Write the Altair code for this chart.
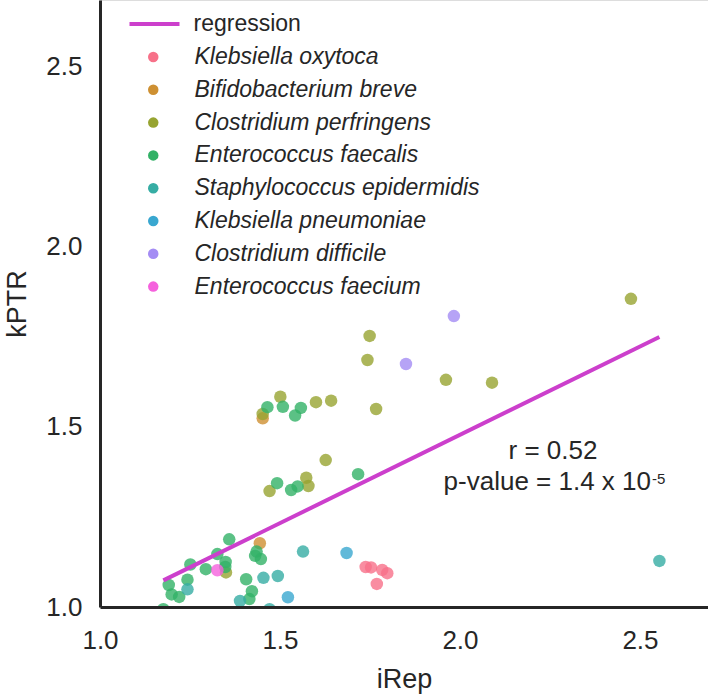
import altair as alt
import pandas as pd

FONT = "Liberation Sans"
INK = "#262626"

species = [
    "Klebsiella oxytoca",
    "Bifidobacterium breve",
    "Clostridium perfringens",
    "Enterococcus faecalis",
    "Staphylococcus epidermidis",
    "Klebsiella pneumoniae",
    "Clostridium difficile",
    "Enterococcus faecium",
]
palette = ["#f77189", "#ce9032", "#97a431", "#32b166",
           "#36ada4", "#39a7d0", "#a48cf4", "#f561dd"]

# iRep and kPTR estimates per genome, grouped by species
irep = {
    "Klebsiella oxytoca": [1.738, 1.753, 1.784, 1.798, 1.769],
    "Bifidobacterium breve": [1.452, 1.444],
    "Clostridium perfringens": [2.475, 1.749, 1.743, 1.961, 2.089, 1.767, 1.501, 1.452,
                                1.600, 1.642, 1.627, 1.471, 1.573, 1.579, 1.350],
    "Enterococcus faecalis": [1.465, 1.508, 1.542, 1.558, 1.717, 1.492, 1.531, 1.549,
                              1.359, 1.435, 1.431, 1.447, 1.326, 1.251, 1.294, 1.349,
                              1.348, 1.191, 1.199, 1.220, 1.243, 1.406, 1.422, 1.415, 1.176],
    "Staphylococcus epidermidis": [2.554, 1.564, 1.243, 1.454, 1.494, 1.389, 1.471],
    "Klebsiella pneumoniae": [1.685, 1.522],
    "Clostridium difficile": [1.983, 1.850],
    "Enterococcus faecium": [1.326],
}
kptr = {
    "Klebsiella oxytoca": [1.111, 1.110, 1.103, 1.094, 1.064],
    "Bifidobacterium breve": [1.524, 1.177],
    "Clostridium perfringens": [1.856, 1.753, 1.686, 1.631, 1.623, 1.550, 1.584, 1.536,
                                1.569, 1.573, 1.408, 1.322, 1.359, 1.336, 1.096],
    "Enterococcus faecalis": [1.555, 1.556, 1.532, 1.553, 1.369, 1.344, 1.325, 1.335,
                              1.188, 1.154, 1.142, 1.133, 1.147, 1.118, 1.105, 1.125,
                              1.111, 1.061, 1.035, 1.028, 1.076, 1.077, 1.044, 1.022, 0.994],
    "Staphylococcus epidermidis": [1.128, 1.154, 1.049, 1.081, 1.086, 1.017, 0.994],
    "Klebsiella pneumoniae": [1.150, 1.027],
    "Clostridium difficile": [1.808, 1.675],
    "Enterococcus faecium": [1.102],
}

# least-squares fit across all genomes
fit_irep = [1.176, 2.554]
fit_kptr = [1.074, 1.750]
fit_color = "#cc3fcc"

stats_r = "r = 0.52"
stats_p = "p-value = 1.4 x 10"
stats_p_exp = "-5"

rows = []
for name in species:
    for xv, yv in zip(irep[name], kptr[name]):
        rows.append({"iRep": xv, "kPTR": yv, "species": name})
points_df = pd.DataFrame(rows)
fit_df = pd.DataFrame({"iRep": fit_irep, "kPTR": fit_kptr,
                       "series": ["regression"] * len(fit_irep)})

x_scale = alt.Scale(domain=[1.0, 2.689], nice=False, zero=False)
y_scale = alt.Scale(domain=[1.0, 2.686], nice=False, zero=False)

x_axis = alt.Axis(
    title="iRep", values=[1.0, 1.5, 2.0, 2.5], format=".1f",
    grid=False, ticks=False, domainColor=INK, domainWidth=3,
    labelFont=FONT, labelFontSize=26, labelColor=INK, labelPadding=20,
    labelFlush=False, labelOverlap=False,
    titleFont=FONT, titleFontSize=27, titleFontWeight="normal", titleColor=INK,
    titleY=80, titleBaseline="alphabetic", zindex=1,
)
y_axis = alt.Axis(
    title="kPTR", values=[1.0, 1.5, 2.0, 2.5], format=".1f",
    grid=False, ticks=False, domainColor=INK, domainWidth=3,
    labelFont=FONT, labelFontSize=26, labelColor=INK, labelPadding=18,
    labelFlush=False, labelOverlap=False,
    titleFont=FONT, titleFontSize=27, titleFontWeight="normal", titleColor=INK,
    titleX=-75, titleBaseline="alphabetic", zindex=1,
)

scatter = alt.Chart(points_df).mark_circle(size=156, opacity=0.8, clip=True).encode(
    x=alt.X("iRep:Q", scale=x_scale, axis=x_axis),
    y=alt.Y("kPTR:Q", scale=y_scale, axis=y_axis),
    color=alt.Color(
        "species:N",
        scale=alt.Scale(domain=species, range=palette),
        sort=species,
        legend=alt.Legend(
            title=None, orient="none", legendX=41.75, legendY=45.5, padding=0,
            symbolType="circle", symbolSize=110, symbolOpacity=1, symbolStrokeWidth=0,
            labelFont=FONT, labelFontSize=23, labelFontStyle="italic", labelColor=INK,
            labelOffset=29.75, rowPadding=8.8, labelLimit=1000,
        ),
    ),
    order=alt.Order("idx:Q"),
).transform_calculate(idx="indexof(" + str(species) + ", datum.species)")

fit_line = alt.Chart(fit_df).mark_line(strokeWidth=4, clip=True).encode(
    x=alt.X("iRep:Q", scale=x_scale),
    y=alt.Y("kPTR:Q", scale=y_scale),
    stroke=alt.Stroke(
        "series:N",
        scale=alt.Scale(domain=["regression"], range=[fit_color]),
        legend=alt.Legend(
            title=None, orient="none", legendX=27.5, legendY=-3, padding=0,
            symbolType="stroke", symbolSize=2500, symbolStrokeWidth=4,
            labelFont=FONT, labelFontSize=23, labelColor=INK, labelOffset=12,
        ),
    ),
)

text_r = alt.Chart(pd.DataFrame({"t": [stats_r]})).mark_text(
    font=FONT, fontSize=26, color=INK, align="center", baseline="alphabetic"
).encode(x=alt.value(453), y=alt.value(459), text="t:N")

text_p = alt.Chart(pd.DataFrame({"t": [stats_p]})).mark_text(
    font=FONT, fontSize=26, color=INK, align="right", baseline="alphabetic"
).encode(x=alt.value(551), y=alt.value(490), text="t:N")

text_exp = alt.Chart(pd.DataFrame({"t": [stats_p_exp]})).mark_text(
    font=FONT, fontSize=15, color=INK, align="left", baseline="alphabetic"
).encode(x=alt.value(552), y=alt.value(484), text="t:N")

chart = alt.layer(scatter, fit_line, text_r, text_p, text_exp).resolve_legend(
    color="independent", stroke="independent"
).properties(
    width=608, height=607,
    autosize=alt.AutoSizeParams(type="none"),
    padding={"left": 100, "top": 0, "right": 0, "bottom": 87},
).configure_view(stroke=None).configure(background="white")

chart.save("out.html", embed_options={"renderer": "svg", "actions": False})
